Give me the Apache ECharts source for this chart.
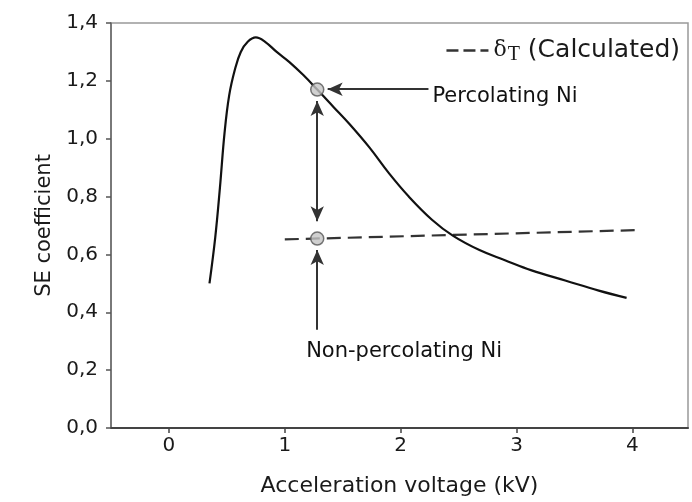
<!DOCTYPE html>
<html>
<head>
<meta charset="utf-8">
<script src="https://cdn.jsdelivr.net/npm/echarts@6/dist/echarts.min.js"></script>
<style>
  html, body { margin: 0; padding: 0; background: #fff; }
  #chart { width: 692px; height: 502px; }
</style>
</head>
<body>
<div id="chart"></div>
<script>
// SE coefficient of Ni vs acceleration voltage
var voltage = [0.35, 0.40, 0.44, 0.48, 0.52, 0.57, 0.62, 0.68, 0.75, 0.83, 0.93, 1.04, 1.16, 1.28, 1.42, 1.56, 1.73, 1.90, 2.07, 2.27, 2.45, 2.68, 2.90, 3.13, 3.42, 3.71, 3.95];
var seCoef  = [0.50, 0.66, 0.83, 1.02, 1.15, 1.24, 1.30, 1.335, 1.35, 1.335, 1.30, 1.265, 1.22, 1.17, 1.11, 1.05, 0.97, 0.88, 0.80, 0.72, 0.665, 0.615, 0.58, 0.545, 0.51, 0.475, 0.45];

// calculated delta_T line
var calcVoltage = [1.0, 4.03];
var calcSE = [0.652, 0.684];

// marked points
var markedX = [1.28, 1.28];
var markedY = [1.17, 0.655];

var xTicks = [0, 1, 2, 3, 4];

// annotation labels and arrows (data coordinates)
var notes = [
  { text: 'Percolating Ni', x: 2.27, y: 1.147 },
  { text: 'Non-percolating Ni', x: 1.18, y: 0.265 }
];
var arrows = [
  { from: [2.24, 1.171], to: [1.37, 1.171], heads: ['none', 'arrow'] },
  { from: [1.28, 1.13], to: [1.28, 0.715], heads: ['arrow', 'arrow'] },
  { from: [1.28, 0.34], to: [1.28, 0.615], heads: ['none', 'arrow'] }
];

function zip(a, b) { return a.map(function (v, i) { return [v, b[i]]; }); }

var font = 'DejaVu Sans, Arial, sans-serif';
var ink = '#1a1a1a';
var chart = echarts.init(document.getElementById('chart'));
chart.setOption({
  animation: false,
  backgroundColor: '#fff',
  grid: { left: 111, right: 4, top: 23, bottom: 74, show: true, borderColor: '#999', borderWidth: 1.5 },
  legend: {
    right: 7, top: 33,
    itemWidth: 42, itemHeight: 12, itemGap: 9,
    data: ['calc'],
    itemStyle: { opacity: 0 },
    lineStyle: { type: [12, 5], width: 2.5 },
    formatter: function () { return '{g|δ}{s|T} (Calculated)'; },
    textStyle: {
      color: ink, fontFamily: font, fontSize: 25,
      rich: {
        g: { fontFamily: 'DejaVu Serif, serif', fontSize: 22, color: ink },
        s: { fontFamily: 'Liberation Serif, serif', fontSize: 20, color: ink, verticalAlign: 'bottom', padding: [9, 0, 0, 1] }
      }
    }
  },
  xAxis: {
    type: 'value', min: -0.5, max: 4.48,
    name: 'Acceleration voltage (kV)', nameLocation: 'middle', nameGap: 47,
    nameTextStyle: { fontFamily: font, fontSize: 22, color: ink },
    axisLine: { lineStyle: { color: '#444', width: 2 } },
    axisTick: { show: true, customValues: xTicks, length: 5, lineStyle: { color: '#444', width: 1.5 } },
    axisLabel: { customValues: xTicks, margin: 8, fontFamily: font, fontSize: 20, color: ink },
    splitLine: { show: false }
  },
  yAxis: {
    type: 'value', min: 0, max: 1.4, interval: 0.2,
    name: 'SE coefficient', nameLocation: 'middle', nameGap: 50,
    nameTextStyle: { fontFamily: font, fontSize: 21, color: ink },
    axisLine: { show: true, onZero: false, lineStyle: { color: '#666', width: 1.5 } },
    axisTick: { show: true, length: 5, lineStyle: { color: '#555', width: 1.5 } },
    axisLabel: {
      margin: 13, fontFamily: font, fontSize: 20, color: ink,
      formatter: function (v) { return v.toFixed(1).replace('.', ','); }
    },
    splitLine: { show: false }
  },
  series: [
    {
      name: 'SE', type: 'line', data: zip(voltage, seCoef), smooth: 0.4,
      symbol: 'none', lineStyle: { color: '#111', width: 2.2 }, z: 3
    },
    {
      name: 'calc', type: 'line', data: zip(calcVoltage, calcSE),
      symbol: 'none', itemStyle: { color: '#333' },
      lineStyle: { color: '#333', width: 2.2, type: [14, 7] }, z: 2,
      markLine: {
        silent: true, symbolSize: [10, 15], precision: 3,
        lineStyle: { color: '#333', width: 2, type: 'solid' },
        label: { show: false },
        data: arrows.map(function (a) {
          return [
            { coord: a.from, symbol: a.heads[0] },
            { coord: a.to, symbol: a.heads[1] }
          ];
        })
      }
    },
    {
      name: 'points', type: 'scatter', data: zip(markedX, markedY),
      symbol: 'circle', symbolSize: 13,
      itemStyle: { color: '#c4c4c4', borderColor: '#555', borderWidth: 1.5 }, z: 5
    },
    {
      name: 'notes', type: 'scatter', symbolSize: 1, silent: true,
      itemStyle: { color: '#fff', opacity: 1 },
      data: notes.map(function (n) {
        return {
          value: [n.x, n.y],
          label: { show: true, position: 'right', distance: 0, formatter: n.text,
                   fontFamily: font, fontSize: 21, color: '#111', opacity: 1 }
        };
      })
    }
  ]
});
</script>
</body>
</html>
